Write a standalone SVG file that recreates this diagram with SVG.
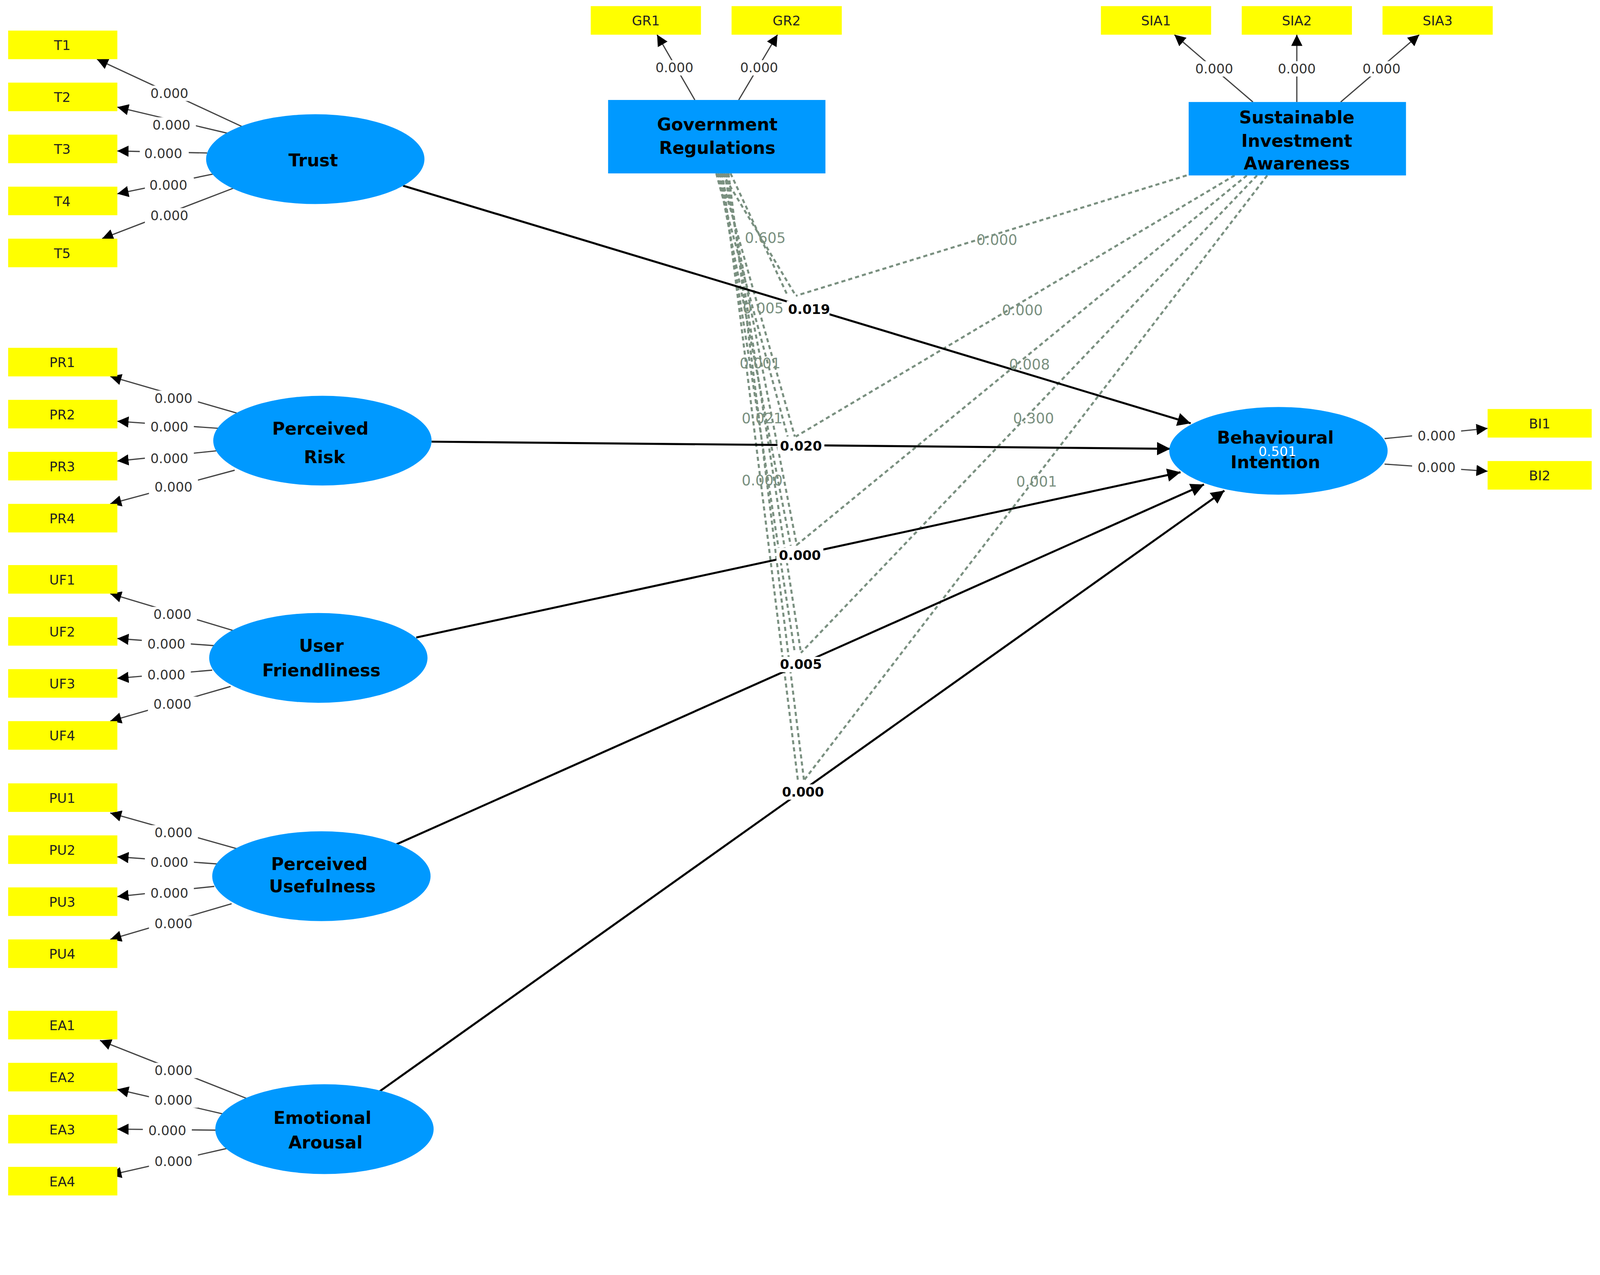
<svg xmlns="http://www.w3.org/2000/svg" width="4333" height="3265" viewBox="0 0 4333 3265">
<style>
.ind{fill:#ffff00}
.it{font-family:"DejaVu Sans",sans-serif;font-size:13px;fill:#222;text-anchor:middle}
.lv{fill:#0099ff}
.lt{font-family:"DejaVu Sans",sans-serif;font-size:17px;font-weight:bold;fill:#000;text-anchor:middle}
.ld{stroke:#444;stroke-width:1.2;fill:none}
.lb{font-family:"DejaVu Sans",sans-serif;font-size:13px;fill:#333;text-anchor:middle}
.pth{stroke:#000;stroke-width:2;fill:none}
.pl{font-family:"DejaVu Sans",sans-serif;font-size:13px;font-weight:bold;fill:#000;text-anchor:middle}
.md{stroke:#7a9080;stroke-width:2;stroke-dasharray:4 3;fill:none}
.ml{font-family:"DejaVu Sans",sans-serif;font-size:14px;fill:#7a9080;text-anchor:middle}
.bg{fill:#fff}
</style>
<defs>
<marker id="a" viewBox="0 0 10 10" refX="10" refY="5" markerWidth="11" markerHeight="11" markerUnits="userSpaceOnUse" orient="auto"><path d="M0,0L10,5L0,10z" fill="#000"/></marker>
<marker id="b" viewBox="0 0 10 10" refX="10" refY="5" markerWidth="13" markerHeight="13" markerUnits="userSpaceOnUse" orient="auto"><path d="M0,0L10,5L0,10z" fill="#000"/></marker>
</defs>
<rect width="4333" height="3265" fill="#fff"/>
<g transform="scale(2.612)">
<g id="connectors">
<path class="md" d="M708,170L780,290M706,170L779,428M710,170L781,535M712,170L785,640M714,170L788,765M716,170L772,290M702,170L772,428M704,170L775,535M706,170L779,640M708,170L782,765"/>
<path class="md" d="M1163,172L780,290M1210,172L780,428M1222,172L780,535M1232,172L785,640M1242,172L788,765"/>
<path class="pth" d="M395,182L1167,415" marker-end="url(#b)"/>
<path class="pth" d="M423,433L1147,440" marker-end="url(#b)"/>
<path class="pth" d="M408,625L1157,463" marker-end="url(#b)"/>
<path class="pth" d="M388,828L1180,475" marker-end="url(#b)"/>
<path class="pth" d="M372,1070L1200,481" marker-end="url(#b)"/>
<g class="ld" marker-end="url(#a)">
<path d="M237,124L95,58"/><path d="M233,133L115,105"/><path d="M203,150L115,148"/><path d="M212,170L115,190"/><path d="M230,184L100,234"/>
<path d="M232,405L108,369"/><path d="M215,420L115,413"/><path d="M212,442L115,452"/><path d="M230,461L108,494"/>
<path d="M228,618L108,582"/><path d="M210,633L115,626"/><path d="M208,657L115,665"/><path d="M226,673L108,707"/>
<path d="M232,832L108,797"/><path d="M213,847L115,840"/><path d="M210,869L115,879"/><path d="M227,886L108,921"/>
<path d="M242,1077L98,1020"/><path d="M218,1092L115,1068"/><path d="M213,1108L115,1107"/><path d="M222,1126L108,1152"/>
<path d="M681,98L644,34"/><path d="M724,98L762,34"/>
<path d="M1228,100L1151,34"/><path d="M1271,100L1271,34"/><path d="M1314,100L1391,34"/>
<path d="M1357,430L1458,420"/><path d="M1357,455L1458,462"/>
</g>
<g class="lb">
<rect class="bg" x="142" y="84" width="48" height="15"/><text x="166" y="96">0.000</text>
<rect class="bg" x="144" y="115" width="48" height="15"/><text x="168" y="127">0.000</text>
<rect class="bg" x="137" y="143" width="48" height="15"/><text x="160" y="155">0.000</text>
<rect class="bg" x="142" y="174" width="48" height="15"/><text x="165" y="186">0.000</text>
<rect class="bg" x="142" y="204" width="48" height="15"/><text x="166" y="216">0.000</text>
<rect class="bg" x="146" y="383" width="48" height="15"/><text x="170" y="395">0.000</text>
<rect class="bg" x="142" y="411" width="48" height="15"/><text x="166" y="423">0.000</text>
<rect class="bg" x="142" y="442" width="48" height="15"/><text x="166" y="454">0.000</text>
<rect class="bg" x="146" y="470" width="48" height="15"/><text x="170" y="482">0.000</text>
<rect class="bg" x="145" y="595" width="48" height="15"/><text x="169" y="607">0.000</text>
<rect class="bg" x="139" y="624" width="48" height="15"/><text x="163" y="636">0.000</text>
<rect class="bg" x="139" y="654" width="48" height="15"/><text x="163" y="666">0.000</text>
<rect class="bg" x="145" y="683" width="48" height="15"/><text x="169" y="695">0.000</text>
<rect class="bg" x="146" y="809" width="48" height="15"/><text x="170" y="821">0.000</text>
<rect class="bg" x="142" y="838" width="48" height="15"/><text x="166" y="850">0.000</text>
<rect class="bg" x="142" y="868" width="48" height="15"/><text x="166" y="880">0.000</text>
<rect class="bg" x="146" y="898" width="48" height="15"/><text x="170" y="910">0.000</text>
<rect class="bg" x="146" y="1042" width="48" height="15"/><text x="170" y="1054">0.000</text>
<rect class="bg" x="146" y="1071" width="48" height="15"/><text x="170" y="1083">0.000</text>
<rect class="bg" x="140" y="1101" width="48" height="15"/><text x="164" y="1113">0.000</text>
<rect class="bg" x="146" y="1131" width="48" height="15"/><text x="170" y="1143">0.000</text>
<rect class="bg" x="637" y="59" width="48" height="15"/><text x="661" y="71">0.000</text>
<rect class="bg" x="720" y="59" width="48" height="15"/><text x="744" y="71">0.000</text>
<rect class="bg" x="1166" y="60" width="48" height="15"/><text x="1190" y="72">0.000</text>
<rect class="bg" x="1247" y="60" width="48" height="15"/><text x="1271" y="72">0.000</text>
<rect class="bg" x="1330" y="60" width="48" height="15"/><text x="1354" y="72">0.000</text>
<rect class="bg" x="1384" y="420" width="48" height="15"/><text x="1408" y="432">0.000</text>
<rect class="bg" x="1384" y="451" width="48" height="15"/><text x="1408" y="463">0.000</text>
</g>
<g class="ml">
<text x="750" y="238">0.605</text>
<text x="748" y="307">0.005</text>
<text x="745" y="361">0.001</text>
<text x="747" y="415">0.021</text>
<text x="747" y="476">0.000</text>
<text x="977" y="240">0.000</text>
<text x="1002" y="309">0.000</text>
<text x="1009" y="362">0.008</text>
<text x="1013" y="415">0.300</text>
<text x="1016" y="477">0.001</text>
</g>
<g class="pl">
<rect class="bg" x="771" y="295" width="42" height="15"/><text x="793" y="308">0.019</text>
<rect class="bg" x="762" y="430" width="46" height="15"/><text x="785" y="442">0.020</text>
<rect class="bg" x="761" y="537" width="46" height="15"/><text x="784" y="549">0.000</text>
<rect class="bg" x="762" y="644" width="46" height="15"/><text x="785" y="656">0.005</text>
<rect class="bg" x="764" y="769" width="46" height="15"/><text x="787" y="781">0.000</text>
</g>
</g>
<g id="n-trust"><ellipse class="lv" cx="309" cy="156" rx="107" ry="44"/><text class="lt" x="307" y="163" font-size="20">Trust</text></g>
<g id="n-pr"><ellipse class="lv" cx="316" cy="432" rx="107" ry="44"/><text class="lt" x="314" y="426">Perceived</text><text class="lt" x="318" y="454">Risk</text></g>
<g id="n-uf"><ellipse class="lv" cx="312" cy="645" rx="107" ry="44"/><text class="lt" x="315" y="639">User</text><text class="lt" x="315" y="663">Friendliness</text></g>
<g id="n-pu"><ellipse class="lv" cx="315" cy="859" rx="107" ry="44"/><text class="lt" x="313" y="853">Perceived</text><text class="lt" x="316" y="875">Usefulness</text></g>
<g id="n-ea"><ellipse class="lv" cx="318" cy="1107" rx="107" ry="44"/><text class="lt" x="316" y="1102">Emotional</text><text class="lt" x="319" y="1126">Arousal</text></g>
<g id="n-bi"><ellipse class="lv" cx="1253" cy="442" rx="107" ry="43"/><text class="lt" x="1250" y="435">Behavioural</text><text class="lt" x="1250" y="459">Intention</text><text x="1252" y="447" font-family="DejaVu Sans,sans-serif" font-size="13" fill="#fff" text-anchor="middle">0.501</text></g>
<g id="n-gr"><rect class="lv" x="596" y="98" width="213" height="72"/><text class="lt" x="703" y="128">Government</text><text class="lt" x="703" y="151">Regulations</text></g>
<g id="n-sia"><rect class="lv" x="1165" y="100" width="213" height="72"/><text class="lt" x="1271" y="121">Sustainable</text><text class="lt" x="1271" y="144">Investment</text><text class="lt" x="1271" y="166">Awareness</text></g>
<g id="indicators">
<g id="T1"><rect class="ind" x="8" y="30" width="107" height="28"/><text class="it" x="61" y="49">T1</text></g>
<g id="T2"><rect class="ind" x="8" y="81" width="107" height="28"/><text class="it" x="61" y="100">T2</text></g>
<g id="T3"><rect class="ind" x="8" y="132" width="107" height="28"/><text class="it" x="61" y="151">T3</text></g>
<g id="T4"><rect class="ind" x="8" y="183" width="107" height="28"/><text class="it" x="61" y="202">T4</text></g>
<g id="T5"><rect class="ind" x="8" y="234" width="107" height="28"/><text class="it" x="61" y="253">T5</text></g>
<g id="PR1"><rect class="ind" x="8" y="341" width="107" height="28"/><text class="it" x="61" y="360">PR1</text></g>
<g id="PR2"><rect class="ind" x="8" y="392" width="107" height="28"/><text class="it" x="61" y="411">PR2</text></g>
<g id="PR3"><rect class="ind" x="8" y="443" width="107" height="28"/><text class="it" x="61" y="462">PR3</text></g>
<g id="PR4"><rect class="ind" x="8" y="494" width="107" height="28"/><text class="it" x="61" y="513">PR4</text></g>
<g id="UF1"><rect class="ind" x="8" y="554" width="107" height="28"/><text class="it" x="61" y="573">UF1</text></g>
<g id="UF2"><rect class="ind" x="8" y="605" width="107" height="28"/><text class="it" x="61" y="624">UF2</text></g>
<g id="UF3"><rect class="ind" x="8" y="656" width="107" height="28"/><text class="it" x="61" y="675">UF3</text></g>
<g id="UF4"><rect class="ind" x="8" y="707" width="107" height="28"/><text class="it" x="61" y="726">UF4</text></g>
<g id="PU1"><rect class="ind" x="8" y="768" width="107" height="28"/><text class="it" x="61" y="787">PU1</text></g>
<g id="PU2"><rect class="ind" x="8" y="819" width="107" height="28"/><text class="it" x="61" y="838">PU2</text></g>
<g id="PU3"><rect class="ind" x="8" y="870" width="107" height="28"/><text class="it" x="61" y="889">PU3</text></g>
<g id="PU4"><rect class="ind" x="8" y="921" width="107" height="28"/><text class="it" x="61" y="940">PU4</text></g>
<g id="EA1"><rect class="ind" x="8" y="991" width="107" height="28"/><text class="it" x="61" y="1010">EA1</text></g>
<g id="EA2"><rect class="ind" x="8" y="1042" width="107" height="28"/><text class="it" x="61" y="1061">EA2</text></g>
<g id="EA3"><rect class="ind" x="8" y="1093" width="107" height="28"/><text class="it" x="61" y="1112">EA3</text></g>
<g id="EA4"><rect class="ind" x="8" y="1144" width="107" height="28"/><text class="it" x="61" y="1163">EA4</text></g>
<g id="GR1"><rect class="ind" x="579" y="6" width="108" height="28"/><text class="it" x="633" y="25">GR1</text></g>
<g id="GR2"><rect class="ind" x="717" y="6" width="108" height="28"/><text class="it" x="771" y="25">GR2</text></g>
<g id="SIA1"><rect class="ind" x="1079" y="6" width="108" height="28"/><text class="it" x="1133" y="25">SIA1</text></g>
<g id="SIA2"><rect class="ind" x="1217" y="6" width="108" height="28"/><text class="it" x="1271" y="25">SIA2</text></g>
<g id="SIA3"><rect class="ind" x="1355" y="6" width="108" height="28"/><text class="it" x="1409" y="25">SIA3</text></g>
<g id="BI1"><rect class="ind" x="1458" y="401" width="102" height="28"/><text class="it" x="1509" y="420">BI1</text></g>
<g id="BI2"><rect class="ind" x="1458" y="452" width="102" height="28"/><text class="it" x="1509" y="471">BI2</text></g>
</g>
</g>
</svg>
